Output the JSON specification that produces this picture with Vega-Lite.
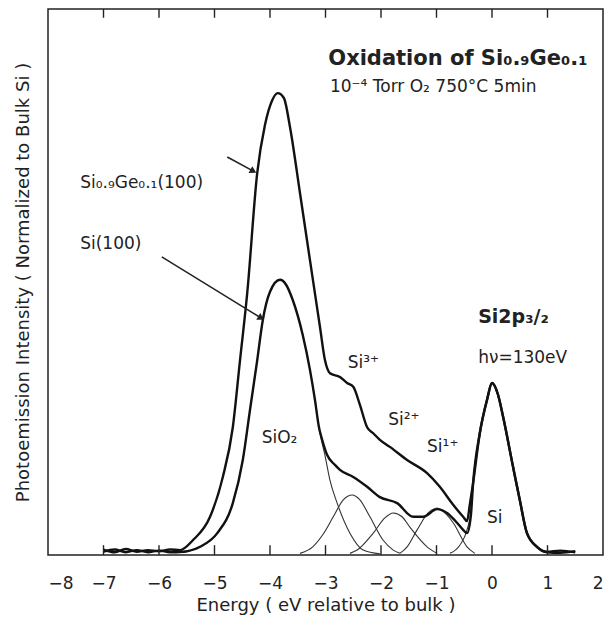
{
  "$schema": "https://vega.github.io/schema/vega-lite/v6.json",
  "width": 555,
  "height": 546,
  "autosize": {"type": "none"},
  "padding": {"left": 48, "top": 9, "right": 2, "bottom": 66},
  "background": "white",
  "config": {
    "view": {"stroke": "#222", "strokeWidth": 1.5},
    "font": "DejaVu Sans",
    "axis": {"grid": false, "labelColor": "#222", "titleColor": "#222", "domainColor": "#222", "tickColor": "#222", "labelFont": "DejaVu Sans", "titleFont": "DejaVu Sans", "titleFontWeight": "normal"}
  },
  "datasets": {
    "curves": [
      {"series": "Si0.9Ge0.1(100)", "x": -7.0, "y": 1.0}, {"series": "Si0.9Ge0.1(100)", "x": -6.8, "y": 0.5}, {"series": "Si0.9Ge0.1(100)", "x": -6.6, "y": 1.1}, {"series": "Si0.9Ge0.1(100)", "x": -6.4, "y": 0.6}, {"series": "Si0.9Ge0.1(100)", "x": -6.2, "y": 0.9}, {"series": "Si0.9Ge0.1(100)", "x": -6.0, "y": 0.7}, {"series": "Si0.9Ge0.1(100)", "x": -5.8, "y": 1.0}, {"series": "Si0.9Ge0.1(100)", "x": -5.62, "y": 0.9}, {"series": "Si0.9Ge0.1(100)", "x": -5.39, "y": 2.7}, {"series": "Si0.9Ge0.1(100)", "x": -5.08, "y": 7.0}, {"series": "Si0.9Ge0.1(100)", "x": -4.85, "y": 14.3}, {"series": "Si0.9Ge0.1(100)", "x": -4.67, "y": 23.4}, {"series": "Si0.9Ge0.1(100)", "x": -4.54, "y": 35.7}, {"series": "Si0.9Ge0.1(100)", "x": -4.41, "y": 48.0}, {"series": "Si0.9Ge0.1(100)", "x": -4.23, "y": 70.0}, {"series": "Si0.9Ge0.1(100)", "x": -4.09, "y": 78.8}, {"series": "Si0.9Ge0.1(100)", "x": -3.96, "y": 83.3}, {"series": "Si0.9Ge0.1(100)", "x": -3.86, "y": 84.6}, {"series": "Si0.9Ge0.1(100)", "x": -3.75, "y": 83.7}, {"series": "Si0.9Ge0.1(100)", "x": -3.64, "y": 78.4}, {"series": "Si0.9Ge0.1(100)", "x": -3.46, "y": 66.3}, {"series": "Si0.9Ge0.1(100)", "x": -3.28, "y": 54.0}, {"series": "Si0.9Ge0.1(100)", "x": -3.10, "y": 41.8}, {"series": "Si0.9Ge0.1(100)", "x": -3.01, "y": 35.7}, {"series": "Si0.9Ge0.1(100)", "x": -2.92, "y": 33.3}, {"series": "Si0.9Ge0.1(100)", "x": -2.74, "y": 32.6}, {"series": "Si0.9Ge0.1(100)", "x": -2.61, "y": 31.5}, {"series": "Si0.9Ge0.1(100)", "x": -2.50, "y": 30.8}, {"series": "Si0.9Ge0.1(100)", "x": -2.38, "y": 27.5}, {"series": "Si0.9Ge0.1(100)", "x": -2.25, "y": 23.4}, {"series": "Si0.9Ge0.1(100)", "x": -2.14, "y": 22.3}, {"series": "Si0.9Ge0.1(100)", "x": -2.02, "y": 21.1}, {"series": "Si0.9Ge0.1(100)", "x": -1.84, "y": 19.8}, {"series": "Si0.9Ge0.1(100)", "x": -1.53, "y": 17.4}, {"series": "Si0.9Ge0.1(100)", "x": -1.17, "y": 15.0}, {"series": "Si0.9Ge0.1(100)", "x": -0.94, "y": 12.5}, {"series": "Si0.9Ge0.1(100)", "x": -0.70, "y": 9.2}, {"series": "Si0.9Ge0.1(100)", "x": -0.52, "y": 7.0}, {"series": "Si0.9Ge0.1(100)", "x": -0.45, "y": 6.2}, {"series": "Si0.9Ge0.1(100)", "x": -0.40, "y": 9.2}, {"series": "Si0.9Ge0.1(100)", "x": -0.34, "y": 13.2}, {"series": "Si0.9Ge0.1(100)", "x": -0.22, "y": 22.3}, {"series": "Si0.9Ge0.1(100)", "x": -0.09, "y": 28.4}, {"series": "Si0.9Ge0.1(100)", "x": 0.0, "y": 31.5}, {"series": "Si0.9Ge0.1(100)", "x": 0.11, "y": 29.3}, {"series": "Si0.9Ge0.1(100)", "x": 0.20, "y": 25.3}, {"series": "Si0.9Ge0.1(100)", "x": 0.38, "y": 16.1}, {"series": "Si0.9Ge0.1(100)", "x": 0.50, "y": 10.1}, {"series": "Si0.9Ge0.1(100)", "x": 0.63, "y": 4.0}, {"series": "Si0.9Ge0.1(100)", "x": 0.81, "y": 1.5}, {"series": "Si0.9Ge0.1(100)", "x": 0.99, "y": 0.6}, {"series": "Si0.9Ge0.1(100)", "x": 1.23, "y": 0.8}, {"series": "Si0.9Ge0.1(100)", "x": 1.50, "y": 0.5},
      {"series": "Si(100)", "x": -7.0, "y": 0.6}, {"series": "Si(100)", "x": -6.8, "y": 1.0}, {"series": "Si(100)", "x": -6.6, "y": 0.5}, {"series": "Si(100)", "x": -6.4, "y": 0.9}, {"series": "Si(100)", "x": -6.2, "y": 0.5}, {"series": "Si(100)", "x": -6.0, "y": 0.8}, {"series": "Si(100)", "x": -5.8, "y": 0.5}, {"series": "Si(100)", "x": -5.57, "y": 0.6}, {"series": "Si(100)", "x": -5.26, "y": 1.5}, {"series": "Si(100)", "x": -4.95, "y": 4.0}, {"series": "Si(100)", "x": -4.67, "y": 9.5}, {"series": "Si(100)", "x": -4.49, "y": 17.4}, {"series": "Si(100)", "x": -4.36, "y": 26.6}, {"series": "Si(100)", "x": -4.23, "y": 35.7}, {"series": "Si(100)", "x": -4.13, "y": 43.0}, {"series": "Si(100)", "x": -4.00, "y": 48.2}, {"series": "Si(100)", "x": -3.82, "y": 50.4}, {"series": "Si(100)", "x": -3.71, "y": 49.5}, {"series": "Si(100)", "x": -3.59, "y": 46.7}, {"series": "Si(100)", "x": -3.41, "y": 40.3}, {"series": "Si(100)", "x": -3.28, "y": 33.9}, {"series": "Si(100)", "x": -3.19, "y": 28.4}, {"series": "Si(100)", "x": -3.12, "y": 23.5}, {"series": "Si(100)", "x": -3.06, "y": 21.1}, {"series": "Si(100)", "x": -2.97, "y": 18.3}, {"series": "Si(100)", "x": -2.83, "y": 16.5}, {"series": "Si(100)", "x": -2.74, "y": 15.6}, {"series": "Si(100)", "x": -2.50, "y": 14.3}, {"series": "Si(100)", "x": -2.25, "y": 12.5}, {"series": "Si(100)", "x": -2.02, "y": 10.6}, {"series": "Si(100)", "x": -1.71, "y": 9.5}, {"series": "Si(100)", "x": -1.42, "y": 7.0}, {"series": "Si(100)", "x": -1.24, "y": 7.0}, {"series": "Si(100)", "x": -0.99, "y": 8.4}, {"series": "Si(100)", "x": -0.81, "y": 7.7}, {"series": "Si(100)", "x": -0.63, "y": 5.9}, {"series": "Si(100)", "x": -0.52, "y": 4.6}, {"series": "Si(100)", "x": -0.45, "y": 4.0}, {"series": "Si(100)", "x": -0.38, "y": 7.3}, {"series": "Si(100)", "x": -0.34, "y": 13.2}, {"series": "Si(100)", "x": -0.22, "y": 22.3}, {"series": "Si(100)", "x": -0.09, "y": 28.4}, {"series": "Si(100)", "x": 0.0, "y": 31.5}, {"series": "Si(100)", "x": 0.11, "y": 29.3}, {"series": "Si(100)", "x": 0.20, "y": 25.3}, {"series": "Si(100)", "x": 0.38, "y": 16.1}, {"series": "Si(100)", "x": 0.50, "y": 10.1}, {"series": "Si(100)", "x": 0.63, "y": 4.0}, {"series": "Si(100)", "x": 0.81, "y": 1.5}, {"series": "Si(100)", "x": 0.99, "y": 0.5}, {"series": "Si(100)", "x": 1.23, "y": 0.4}, {"series": "Si(100)", "x": 1.50, "y": 0.7}
    ],
    "components": [
      {"component": "SiO2", "x": -5.57, "y": 0.4}, {"component": "SiO2", "x": -5.26, "y": 1.5}, {"component": "SiO2", "x": -4.95, "y": 4.0}, {"component": "SiO2", "x": -4.67, "y": 9.5}, {"component": "SiO2", "x": -4.49, "y": 17.4}, {"component": "SiO2", "x": -4.36, "y": 26.6}, {"component": "SiO2", "x": -4.23, "y": 35.7}, {"component": "SiO2", "x": -4.13, "y": 43.0}, {"component": "SiO2", "x": -4.00, "y": 48.2}, {"component": "SiO2", "x": -3.82, "y": 50.4}, {"component": "SiO2", "x": -3.71, "y": 49.5}, {"component": "SiO2", "x": -3.59, "y": 46.7}, {"component": "SiO2", "x": -3.41, "y": 40.3}, {"component": "SiO2", "x": -3.28, "y": 33.9}, {"component": "SiO2", "x": -3.19, "y": 28.4}, {"component": "SiO2", "x": -3.10, "y": 22.3}, {"component": "SiO2", "x": -3.01, "y": 18.3}, {"component": "SiO2", "x": -2.92, "y": 13.7}, {"component": "SiO2", "x": -2.79, "y": 9.5}, {"component": "SiO2", "x": -2.56, "y": 4.0}, {"component": "SiO2", "x": -2.32, "y": 0.9}, {"component": "SiO2", "x": -2.02, "y": 0.2},
      {"component": "Si3+", "x": -3.46, "y": 0.3}, {"component": "Si3+", "x": -3.23, "y": 1.5}, {"component": "Si3+", "x": -3.05, "y": 3.7}, {"component": "Si3+", "x": -2.86, "y": 7.0}, {"component": "Si3+", "x": -2.68, "y": 10.1}, {"component": "Si3+", "x": -2.52, "y": 11.0}, {"component": "Si3+", "x": -2.38, "y": 10.1}, {"component": "Si3+", "x": -2.20, "y": 7.0}, {"component": "Si3+", "x": -1.96, "y": 2.7}, {"component": "Si3+", "x": -1.78, "y": 0.9}, {"component": "Si3+", "x": -1.66, "y": 0.3},
      {"component": "Si2+", "x": -2.56, "y": 0.3}, {"component": "Si2+", "x": -2.43, "y": 0.9}, {"component": "Si2+", "x": -2.14, "y": 4.0}, {"component": "Si2+", "x": -1.93, "y": 6.8}, {"component": "Si2+", "x": -1.78, "y": 7.7}, {"component": "Si2+", "x": -1.62, "y": 7.0}, {"component": "Si2+", "x": -1.48, "y": 5.1}, {"component": "Si2+", "x": -1.17, "y": 1.5}, {"component": "Si2+", "x": -0.99, "y": 0.3},
      {"component": "Si1+", "x": -1.66, "y": 0.3}, {"component": "Si1+", "x": -1.53, "y": 1.5}, {"component": "Si1+", "x": -1.35, "y": 4.6}, {"component": "Si1+", "x": -1.15, "y": 7.7}, {"component": "Si1+", "x": -0.99, "y": 8.6}, {"component": "Si1+", "x": -0.85, "y": 7.7}, {"component": "Si1+", "x": -0.70, "y": 5.9}, {"component": "Si1+", "x": -0.45, "y": 1.5}, {"component": "Si1+", "x": -0.31, "y": 0.3},
      {"component": "Si", "x": -0.76, "y": 0.3}, {"component": "Si", "x": -0.58, "y": 1.8}, {"component": "Si", "x": -0.45, "y": 4.6}, {"component": "Si", "x": -0.38, "y": 8.0}, {"component": "Si", "x": -0.34, "y": 13.2}, {"component": "Si", "x": -0.22, "y": 22.3}, {"component": "Si", "x": -0.09, "y": 28.4}, {"component": "Si", "x": 0.0, "y": 31.5}, {"component": "Si", "x": 0.11, "y": 29.3}, {"component": "Si", "x": 0.20, "y": 25.3}, {"component": "Si", "x": 0.38, "y": 16.1}, {"component": "Si", "x": 0.50, "y": 10.1}, {"component": "Si", "x": 0.63, "y": 4.0}, {"component": "Si", "x": 0.81, "y": 1.5}, {"component": "Si", "x": 0.99, "y": 0.5}
    ],
    "tickmarks": [
      {"energy": -7}, {"energy": -6}, {"energy": -5}, {"energy": -4}, {"energy": -3}, {"energy": -2}, {"energy": -1}, {"energy": 0}, {"energy": 1}
    ],
    "arrows": [
      {"target": "Si0.9Ge0.1(100)", "x": -4.77, "y": 72.9, "x2": -4.30, "y2": 70.3, "dir": 29},
      {"target": "Si(100)", "x": -5.95, "y": 54.6, "x2": -4.16, "y2": 43.4, "dir": 31}
    ],
    "notes": [
      {"role": "title", "text": "Oxidation  of  Si₀.₉Ge₀.₁", "x": -2.95, "y": 89.7},
      {"role": "cond", "text": "10⁻⁴ Torr O₂   750°C   5min", "x": -2.92, "y": 84.8},
      {"role": "label", "text": "Si₀.₉Ge₀.₁(100)", "x": -7.42, "y": 67.2},
      {"role": "label", "text": "Si(100)", "x": -7.42, "y": 56.0},
      {"role": "core", "text": "Si2p₃/₂", "x": -0.25, "y": 42.5},
      {"role": "label", "text": "hν=130eV", "x": -0.25, "y": 35.2},
      {"role": "label", "text": "Si³⁺", "x": -2.6, "y": 34.2},
      {"role": "label", "text": "Si²⁺", "x": -1.87, "y": 23.8},
      {"role": "label", "text": "Si¹⁺", "x": -1.17, "y": 18.9},
      {"role": "label", "text": "SiO₂", "x": -4.15, "y": 20.5},
      {"role": "label", "text": "Si", "x": -0.09, "y": 5.9}
    ]
  },
  "layer": [
    {
      "data": {"name": "components"},
      "mark": {"type": "line", "color": "#333", "strokeWidth": 1.1, "interpolate": "monotone"},
      "encoding": {
        "x": {"field": "x", "type": "quantitative", "scale": {"domain": [-8, 2], "nice": false},
          "axis": {"orient": "bottom", "domain": false, "values": [-8, -7, -6, -5, -4, -3, -2, -1, 0, 1, 2], "ticks": false, "labelFontSize": 17, "labelPadding": 20, "title": "Energy ( eV relative to bulk )", "titleFontSize": 18, "titlePadding": 5}},
        "y": {"field": "y", "type": "quantitative", "scale": {"domain": [0, 100], "nice": false},
          "axis": {"orient": "left", "labels": false, "ticks": false, "domain": false, "title": "Photoemission Intensity ( Normalized to Bulk Si )", "titleFontSize": 18, "titlePadding": 16}},
        "detail": {"field": "component"}
      }
    },
    {
      "data": {"name": "curves"},
      "mark": {"type": "line", "color": "#111", "strokeWidth": 2.4, "interpolate": "monotone"},
      "encoding": {
        "x": {"field": "x", "type": "quantitative", "axis": null},
        "y": {"field": "y", "type": "quantitative", "axis": null},
        "detail": {"field": "series"}
      }
    },
    {
      "data": {"name": "tickmarks"},
      "mark": {"type": "rule", "color": "#222", "strokeWidth": 1.4},
      "encoding": {
        "x": {"field": "energy", "type": "quantitative", "axis": null},
        "y": {"datum": 0, "type": "quantitative", "axis": null},
        "y2": {"datum": 1.8}
      }
    },
    {
      "data": {"name": "tickmarks"},
      "mark": {"type": "rule", "color": "#222", "strokeWidth": 1.4},
      "encoding": {
        "x": {"field": "energy", "type": "quantitative", "axis": null},
        "y": {"datum": 100, "type": "quantitative", "axis": null},
        "y2": {"datum": 98.4}
      }
    },
    {
      "data": {"name": "arrows"},
      "mark": {"type": "rule", "color": "#222", "strokeWidth": 1.6},
      "encoding": {
        "x": {"field": "x", "type": "quantitative", "axis": null},
        "y": {"field": "y", "type": "quantitative", "axis": null},
        "x2": {"field": "x2"},
        "y2": {"field": "y2"}
      }
    },
    {
      "data": {"name": "arrows"},
      "mark": {"type": "point", "shape": "triangle-right", "filled": true, "color": "#222", "size": 60, "opacity": 1},
      "encoding": {
        "x": {"field": "x2", "type": "quantitative", "axis": null},
        "y": {"field": "y2", "type": "quantitative", "axis": null},
        "angle": {"field": "dir", "type": "quantitative", "scale": null}
      }
    },
    {
      "data": {"name": "notes"},
      "transform": [{"filter": "datum.role === 'title'"}],
      "mark": {"type": "text", "align": "left", "baseline": "alphabetic", "fontSize": 21, "fontWeight": "bold", "color": "#222"},
      "encoding": {"x": {"field": "x", "type": "quantitative", "axis": null}, "y": {"field": "y", "type": "quantitative", "axis": null}, "text": {"field": "text"}}
    },
    {
      "data": {"name": "notes"},
      "transform": [{"filter": "datum.role === 'cond'"}],
      "mark": {"type": "text", "align": "left", "baseline": "alphabetic", "fontSize": 17, "color": "#222"},
      "encoding": {"x": {"field": "x", "type": "quantitative", "axis": null}, "y": {"field": "y", "type": "quantitative", "axis": null}, "text": {"field": "text"}}
    },
    {
      "data": {"name": "notes"},
      "transform": [{"filter": "datum.role === 'core'"}],
      "mark": {"type": "text", "align": "left", "baseline": "alphabetic", "fontSize": 19, "fontWeight": "bold", "color": "#222"},
      "encoding": {"x": {"field": "x", "type": "quantitative", "axis": null}, "y": {"field": "y", "type": "quantitative", "axis": null}, "text": {"field": "text"}}
    },
    {
      "data": {"name": "notes"},
      "transform": [{"filter": "datum.role === 'label'"}],
      "mark": {"type": "text", "align": "left", "baseline": "alphabetic", "fontSize": 17, "color": "#222"},
      "encoding": {"x": {"field": "x", "type": "quantitative", "axis": null}, "y": {"field": "y", "type": "quantitative", "axis": null}, "text": {"field": "text"}}
    }
  ],
  "resolve": {"axis": {"x": "independent", "y": "independent"}}
}
